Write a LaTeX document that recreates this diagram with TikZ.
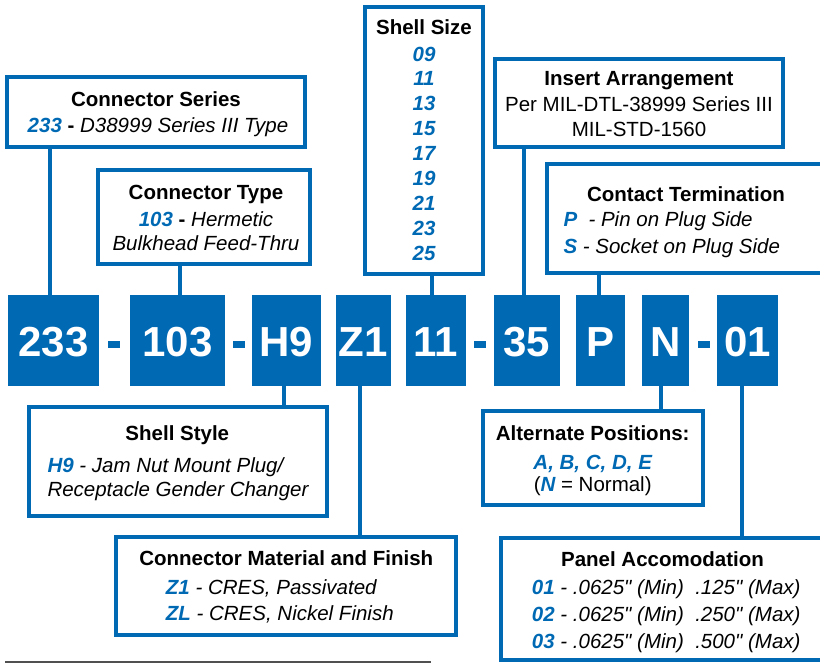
\documentclass[tikz,border=0pt]{standalone}
\usepackage{fontspec}
\setmainfont{Liberation Sans}[Ligatures=TeXOff]
\definecolor{cblue}{RGB}{0,105,180}
\definecolor{lgray}{RGB}{80,80,80}
\tikzset{
  tbox/.style={draw=cblue, line width=4pt, rectangle, inner sep=0pt, outer sep=0pt},
  cbox/.style={fill=cblue, rectangle, inner sep=0pt, outer sep=0pt, minimum height=91pt},
  ctext/.style={text=white, font=\fontsize{42}{42}\selectfont\bfseries, anchor=base, inner sep=0pt},
  ttl/.style={font=\fontsize{20.5}{24}\selectfont\bfseries, anchor=base, inner sep=0pt},
  txt/.style={font=\fontsize{20.5}{24}\selectfont, anchor=base, inner sep=0pt},
  txtl/.style={txt, anchor=base west},
  lnk/.style={draw=cblue, line width=4pt},
  dashbar/.style={fill=cblue, rectangle, minimum width=12pt, minimum height=7pt, inner sep=0pt}
}
\newcommand{\bl}[1]{\textcolor{cblue}{\bfseries\itshape #1}}
\newcommand{\qq}{\char34\relax}
\begin{document}
\begin{tikzpicture}[x=1pt,y=-1pt]
\useasboundingbox (0,0) rectangle (820,664);
\clip (0,0) rectangle (820,664);

% code boxes
\node[cbox, minimum width=91pt] (c233) at (53.5,340.5) {};
\node[cbox, minimum width=95pt] (c103) at (177.5,340.5) {};
\node[cbox, minimum width=69pt] (cH9) at (286.5,340.5) {};
\node[cbox, minimum width=55pt] (cZ1) at (363.5,340.5) {};
\node[cbox, minimum width=60pt] (c11) at (436,340.5) {};
\node[cbox, minimum width=66pt] (c35) at (527,340.5) {};
\node[cbox, minimum width=49pt] (cP) at (600.5,340.5) {};
\node[cbox, minimum width=47pt] (cN) at (665.5,340.5) {};
\node[cbox, minimum width=61pt] (c01) at (747.5,340.5) {};

\node[ctext] (t233) at (53.5,356.7) {233};
\node[ctext] (t103) at (177.5,356.7) {103};
\node[ctext] (tH9) at (286.5,356.7) {H9};
\node[ctext] (tZ1) at (363.5,356.7) {Z1};
\node[ctext] (t11) at (436,356.7) {11};
\node[ctext] (t35) at (527,356.7) {35};
\node[ctext] (tP) at (600.5,356.7) {P};
\node[ctext] (tN) at (665.5,356.7) {N};
\node[ctext] (t01) at (747.5,356.7) {01};

\node[dashbar] (d1) at (114,344) {};
\node[dashbar] (d2) at (238.5,344) {};
\node[dashbar] (d3) at (480,344) {};
\node[dashbar] (d4) at (703.5,344) {};

% text boxes
\node[tbox, minimum width=298pt, minimum height=70pt] (series) at (156,112) {};
\node[tbox, minimum width=212pt, minimum height=94pt] (type) at (204,217) {};
\node[tbox, minimum width=118pt, minimum height=267pt] (size) at (424,140.5) {};
\node[tbox, minimum width=288pt, minimum height=88pt] (insert) at (639,103) {};
\node[tbox, minimum width=283pt, minimum height=109pt] (contact) at (688.5,218.5) {};
\node[tbox, minimum width=298pt, minimum height=109pt] (style) at (178,461.5) {};
\node[tbox, minimum width=340pt, minimum height=98pt] (material) at (286,586) {};
\node[tbox, minimum width=220pt, minimum height=94pt] (alt) at (593,458) {};
\node[tbox, minimum width=329pt, minimum height=122pt] (panel) at (665.5,599) {};

% connectors
\draw[lnk] ([xshift=-3.8pt]c233.north) -- ([xshift=-3.8pt]c233.north |- series.south);
\draw[lnk] ([xshift=2.9pt]c103.north) -- ([xshift=2.9pt]c103.north |- type.south);
\draw[lnk] ([xshift=-4pt]c11.north) -- ([xshift=-4pt]c11.north |- size.south);
\draw[lnk] ([xshift=-3pt]c35.north) -- ([xshift=-3pt]c35.north |- insert.south);
\draw[lnk] ([xshift=-1.1pt]cP.north) -- ([xshift=-1.1pt]cP.north |- contact.south);
\draw[lnk] ([xshift=-2.5pt]cH9.south) -- ([xshift=-2.5pt]cH9.south |- style.north);
\draw[lnk] ([xshift=-3.5pt]cZ1.south) -- ([xshift=-3.5pt]cZ1.south |- material.north);
\draw[lnk] ([xshift=-4.9pt]cN.south) -- ([xshift=-4.9pt]cN.south |- alt.north);
\draw[lnk] ([xshift=-5.9pt]c01.south) -- ([xshift=-5.9pt]c01.south |- panel.north);

% Connector Series
\node[ttl] (seriesT) at (156,106.7) {Connector Series};
\node[txt] (seriesL) at (158,132) {\bl{233} \textbf{-} \textit{D38999 Series III Type}};

% Connector Type
\node[ttl] (typeT) at (206,199) {Connector Type};
\node[txt] (typeL1) at (206,226.7) {\bl{103} \textbf{-} \textit{Hermetic}};
\node[txt] (typeL2) at (206,250.5) {\textit{Bulkhead Feed-Thru}};

% Shell Size
\node[ttl] (sizeT) at (424,34.3) {Shell Size};
\foreach \v [count=\i from 0] in {09,11,13,15,17,19,21,23,25}{
  \node[txt] (size\i) at (424,61+24.95*\i) {\bl{\v}};
}

% Insert Arrangement
\node[ttl] (insT) at (639,85) {Insert Arrangement};
\node[txt] (insL1) at (639,111.7) {Per MIL-DTL-38999 Series III};
\node[txt] (insL2) at (639,136.7) {MIL-STD-1560};

% Contact Termination
\node[ttl] (conT) at (686,201.7) {Contact Termination};
\node[txtl] (conL1) at (563.3,226.7) {\bl{P} \ \textit{- Pin on Plug Side}};
\node[txtl] (conL2) at (563.3,253.3) {\bl{S} \textit{- Socket on Plug Side}};

% Shell Style
\node[ttl] (styT) at (177.3,440.7) {Shell Style};
\node[txtl] (styL1) at (47.3,472.3) {\bl{H9} \textit{- Jam Nut Mount Plug/}};
\node[txtl] (styL2) at (47.3,496.7) {\textit{Receptacle Gender Changer}};

% Material
\node[ttl] (matT) at (286.3,565) {Connector Material and Finish};
\node[txtl] (matL1) at (165.7,594.3) {\bl{Z1} \textit{- CRES, Passivated}};
\node[txtl] (matL2) at (165.7,620.7) {\bl{ZL} \textit{- CRES, Nickel Finish}};

% Alternate Positions
\node[ttl] (altT) at (592.7,440) {Alternate Positions:};
\node[txt] (altL1) at (592.7,469) {\bl{A, B, C, D, E}};
\node[txt] (altL2) at (592.7,491.5) {(\bl{N} = Normal)};

% Panel Accomodation
\node[ttl] (panT) at (662.5,566.7) {Panel Accomodation};
\node[txtl] (panL1) at (531.7,594) {\bl{01} \textit{- .0625\qq{} (Min) \ .125\qq{} (Max)}};
\node[txtl] (panL2) at (531.7,621.7) {\bl{02} \textit{- .0625\qq{} (Min) \ .250\qq{} (Max)}};
\node[txtl] (panL3) at (531.7,648.3) {\bl{03} \textit{- .0625\qq{} (Min) \ .500\qq{} (Max)}};

% bottom rule
\coordinate (gl1) at (5,662);
\coordinate (gl2) at (431,662);
\draw[lgray, line width=2.5pt] (gl1) -- (gl2);
\end{tikzpicture}
\end{document}
